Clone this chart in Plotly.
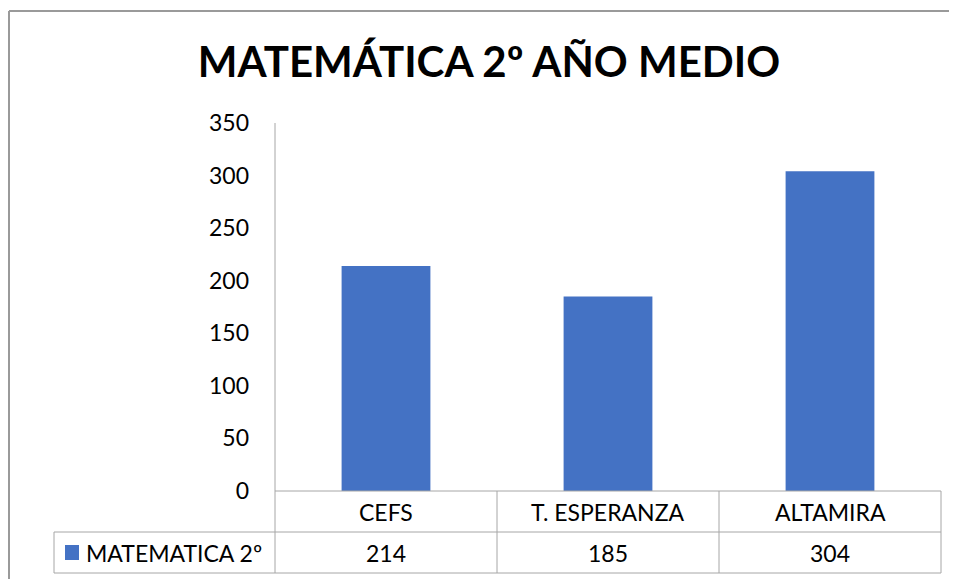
import plotly.graph_objects as go

# data
categories = ["CEFS", "T. ESPERANZA", "ALTAMIRA"]
values = [214, 185, 304]
series_name = "MATEMATICA 2º"
title_text = "MATEMÁTICA 2º AÑO MEDIO"
y_ticks = [0, 50, 100, 150, 200, 250, 300, 350]

W, H = 957, 579
OFF = 8  # the page body adds an 8px margin around the plot div
FONT = "Lato, Carlito, Calibri, sans-serif"
BLUE = "#4472C4"
GRID = "#a6a6a6"


def px(x):
    return (x - OFF) / W


def py(y):
    return 1 - (y - OFF) / H


# screen positions (pixels) of the plot area and the data table
x0, x1 = 275, 941
y_top, y_zero = 123, 491
row_mid, row_bot = 532, 573
tbl_left = 54

fig = go.Figure(go.Bar(x=categories, y=values, name=series_name,
                       marker=dict(color=BLUE, line=dict(width=0)), width=0.4))

shapes = []
line = dict(color=GRID, width=1)
# outer chart border (left + top)
shapes.append(dict(type="line", xref="paper", yref="paper", x0=px(9), x1=px(9), y0=0, y1=py(11),
                   line=dict(color="#9a9a9a", width=2)))
shapes.append(dict(type="line", xref="paper", yref="paper", x0=px(9), x1=1, y0=py(11), y1=py(11),
                   line=dict(color="#9a9a9a", width=2)))
# data table grid
shapes.append(dict(type="line", xref="paper", yref="paper", x0=px(x0), x1=px(x1),
                   y0=py(y_zero), y1=py(y_zero), line=line))
for yy in (row_mid, row_bot):
    shapes.append(dict(type="line", xref="paper", yref="paper", x0=px(tbl_left), x1=px(x1),
                       y0=py(yy), y1=py(yy), line=line))
shapes.append(dict(type="line", xref="paper", yref="paper", x0=px(tbl_left), x1=px(tbl_left),
                   y0=py(row_mid), y1=py(row_bot), line=line))
colw = (x1 - x0) / len(categories)
for i in range(len(categories) + 1):
    xx = x0 + i * colw
    shapes.append(dict(type="line", xref="paper", yref="paper", x0=px(xx), x1=px(xx),
                       y0=py(y_zero), y1=py(row_bot), line=line))
# value axis line
shapes.append(dict(type="line", xref="paper", yref="paper", x0=px(x0), x1=px(x0),
                   y0=py(y_zero), y1=py(y_top), line=line))
# legend key square
shapes.append(dict(type="rect", xref="paper", yref="paper", x0=px(65), x1=px(79),
                   y0=py(560), y1=py(545), fillcolor=BLUE, line=dict(width=0)))

annotations = []
for c, v in zip(categories, values):
    annotations.append(dict(x=c, xref="x", y=py((row_mid + row_bot) / 2), yref="paper",
                            yanchor="middle", text=str(v), showarrow=False,
                            font=dict(size=23, color="#000")))
    annotations.append(dict(x=c, xref="x", y=py((y_zero + row_mid) / 2), yref="paper",
                            yanchor="middle", text=c, showarrow=False,
                            font=dict(size=23, color="#000")))
annotations.append(dict(x=px(84), xref="paper", y=py((row_mid + row_bot) / 2), yref="paper",
                        xanchor="left", yanchor="middle", text=series_name, showarrow=False,
                        font=dict(size=23, color="#000")))

fig.update_layout(
    width=W, height=H,
    margin=dict(l=0, r=0, t=0, b=0, pad=0),
    paper_bgcolor="white", plot_bgcolor="white",
    font=dict(family=FONT, color="#000"),
    title=dict(text="<b>" + title_text + "</b>", x=px(489), xanchor="center",
               y=py(62), yanchor="middle", font=dict(size=42, color="#000")),
    showlegend=False,
    shapes=shapes,
    annotations=annotations,
    xaxis=dict(domain=[px(x0), px(x1)], showticklabels=False, showgrid=False,
               zeroline=False, showline=False, ticks="", automargin=False),
    yaxis=dict(domain=[py(y_zero), py(y_top)], range=[0, 350], tickvals=y_ticks,
               showgrid=False, zeroline=False, showline=False, ticks="", automargin=False,
               ticklabelstandoff=25, tickfont=dict(size=23, color="#000")),
)

fig.write_html("out.html")
